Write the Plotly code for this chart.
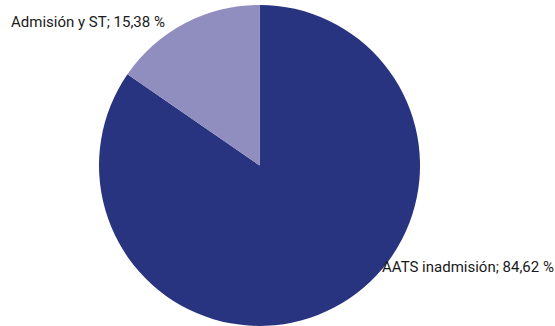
import plotly.graph_objects as go

labels = ["AATS inadmisión", "Admisión y ST"]
values = [84.62, 15.38]
colors = ["#283480", "#908dbf"]

def fmt(v):
    return f"{v:.2f}".replace(".", ",") + " %"

fig = go.Figure(go.Pie(
    labels=labels, values=values, sort=False, direction="clockwise",
    rotation=0, marker=dict(colors=colors, line=dict(width=0)),
    textinfo="none", hoverinfo="label+value", showlegend=False,
    domain=dict(x=[0.1784, 0.7568], y=[0.0, 0.985]),
))

label_pos = [(380, 267), (9, 22)]
for lab, v, (px, py) in zip(labels, values, label_pos):
    fig.add_annotation(
        text=f"{lab}; {fmt(v)}", x=px / 555, y=1 - py / 326,
        xref="paper", yref="paper", xanchor="left", yanchor="middle",
        showarrow=False, font=dict(family="Roboto", size=15, color="#1a1a1a"),
    )

fig.update_layout(
    width=555, height=326, margin=dict(l=0, r=0, t=0, b=0),
    paper_bgcolor="white", plot_bgcolor="white",
)
fig.write_html("out.html", config={"displayModeBar": False},
               post_script="document.body.style.margin='0';")
